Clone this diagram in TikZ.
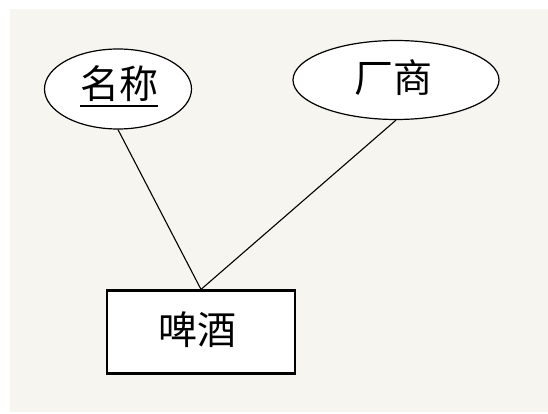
\documentclass[tikz,border=0pt]{standalone}
\usepackage{fontspec}
\newfontfamily\cjk{Noto Sans CJK SC}
\usetikzlibrary{shapes.geometric}
\definecolor{bgbeige}{HTML}{F7F5F0}
\tikzset{
  attr/.style={ellipse, draw=black, line width=1.2pt, fill=white, inner sep=0pt},
  entity/.style={rectangle, draw=black, line width=2.2pt, fill=white, inner sep=0pt},
  lbl/.style={font=\cjk\fontsize{39}{42}\selectfont, inner sep=0pt},
  link/.style={draw=black, line width=1.1pt}
}
\begin{document}
\begin{tikzpicture}[x=1pt,y=-1pt]
\useasboundingbox (0,0) rectangle (548,414);
\fill[white] (0,0) rectangle (548,414);
\fill[bgbeige] (10,9) rectangle (548,412);
\node[attr, minimum width=147pt, minimum height=80pt] (name) at (118,89) {};
\node[attr, minimum width=206pt, minimum height=79pt] (maker) at (396,80) {};
\node[entity, minimum width=188pt, minimum height=83pt] (beer) at (201,332) {};
\draw[link] (name.south) -- (beer.north);
\draw[link] (maker.south) -- (beer.north);
\node[lbl] (tname) at (119,84) {名称};
\draw[line width=1.2pt] (tname.south west |- 0,106) coordinate (ul1) -- (tname.south east |- 0,106) coordinate (ul2);
\node[lbl] (tmaker) at (393,78) {厂商};
\node[lbl] (tbeer) at (197,330) {啤酒};
\end{tikzpicture}
\end{document}
